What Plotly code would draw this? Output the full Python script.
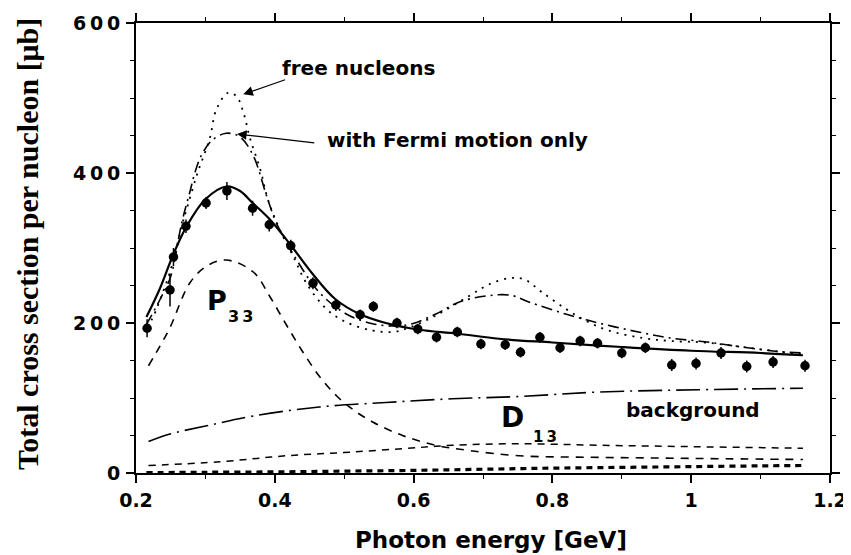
import plotly.graph_objects as go

# ---------------- data ----------------
data_x = [0.216, 0.249, 0.254, 0.272, 0.301, 0.331, 0.368, 0.392, 0.423, 0.455,
          0.488, 0.523, 0.542, 0.576, 0.606, 0.633, 0.663, 0.697, 0.732, 0.754,
          0.782, 0.811, 0.840, 0.865, 0.900, 0.934, 0.972, 1.007, 1.043, 1.080,
          1.118, 1.164]
data_y = [193, 244, 288, 329, 360, 376, 353, 331, 303, 253,
          224, 211, 222, 200, 192, 181, 188, 172, 171, 161,
          181, 167, 176, 173, 160, 167, 144, 146, 160, 142,
          148, 143]
data_err = [12, 22, 12, 9, 8, 12, 10, 9, 8, 8,
            8, 7, 7, 7, 7, 7, 7, 7, 7, 7,
            7, 7, 7, 7, 7, 7, 8, 8, 8, 8,
            8, 8]

total_x = [0.215, 0.234, 0.254, 0.273, 0.300, 0.330, 0.350, 0.367, 0.392, 0.422,
           0.454, 0.487, 0.522, 0.560, 0.608, 0.662, 0.723, 0.800, 0.900, 1.000,
           1.100, 1.161]
total_y = [208, 245, 292, 329, 365, 382, 376, 361, 339, 305,
           266, 232, 212, 200, 191, 186, 179, 174, 168, 163,
           160, 157]

free_x = [0.215, 0.223, 0.235, 0.249, 0.259, 0.266, 0.273, 0.289, 0.306, 0.316,
          0.333, 0.345, 0.355, 0.364, 0.379, 0.390, 0.407, 0.426, 0.445, 0.474,
          0.503, 0.541, 0.570, 0.594, 0.632, 0.680, 0.710, 0.740, 0.760, 0.785,
          0.819, 0.848, 0.881, 0.930, 0.970, 1.020, 1.073, 1.125, 1.161]
free_y = [195, 205, 232, 268, 303, 330, 352, 401, 445, 485,
          507, 502, 480, 447, 405, 365, 325, 290, 254, 219,
          201, 190, 188, 194, 210, 236, 252, 260, 258, 241,
          219, 203, 190, 180, 176, 174, 168, 162, 158]

fermi_x = [0.215, 0.235, 0.250, 0.266, 0.278, 0.285, 0.295, 0.310, 0.330, 0.350,
           0.369, 0.388, 0.402, 0.431, 0.464, 0.503, 0.541, 0.575, 0.598, 0.632,
           0.666, 0.704, 0.740, 0.766, 0.819, 0.871, 0.924, 0.970, 1.020, 1.073,
           1.125, 1.161]
fermi_y = [198, 232, 262, 334, 376, 401, 425, 444, 453, 448,
           423, 370, 334, 285, 241, 212, 199, 196, 199, 212,
           228, 236, 237, 228, 212, 199, 188, 180, 175, 168,
           162, 160]

p33_x = [0.218, 0.235, 0.249, 0.278, 0.302, 0.330, 0.369, 0.393, 0.417, 0.440,
         0.465, 0.490, 0.512, 0.541, 0.584, 0.632, 0.680, 0.752, 0.850, 0.950,
         1.050, 1.161]
p33_y = [143, 170, 194, 254, 276, 284, 268, 235, 197, 162,
         128, 102, 85, 68, 50, 37, 30, 23, 21, 20,
         19, 18]

d13_x = [0.218, 0.321, 0.417, 0.512, 0.608, 0.656, 0.752, 0.867, 1.010, 1.161]
d13_y = [10, 15, 23, 28, 34, 37, 39, 37, 35, 33]

bg_x = [0.218, 0.249, 0.302, 0.369, 0.464, 0.560, 0.656, 0.752, 0.867, 1.010, 1.161]
bg_y = [42, 52, 63, 76, 88, 94, 99, 102, 108, 111, 113]

other_x = [0.215, 0.300, 0.400, 0.500, 0.600, 0.700, 0.800, 0.900, 1.000, 1.100, 1.161]
other_y = [0.5, 1, 1.5, 2.5, 3.5, 5, 6.5, 7.5, 8.5, 9.5, 10]

x_ticks = [0.2, 0.4, 0.6, 0.8, 1.0, 1.2]
x_tick_labels = ["0.2", "0.4", "0.6", "0.8", "1", "1.2"]
y_ticks = [0, 200, 400, 600]
y_tick_labels = ["0", "2\u20090\u20090", "4\u20090\u20090", "6\u20090\u20090"]

# ---------------- figure ----------------
fig = go.Figure()

def curve(x, y, dash, width=1.6):
    fig.add_trace(go.Scatter(x=x, y=y, mode="lines", line_shape="spline",
                             line=dict(color="black", width=width, dash=dash),
                             hoverinfo="skip"))

curve(other_x, other_y, "6px,5px", 3.2)
curve(bg_x, bg_y, "24px,6px,2px,6px", 1.6)
curve(d13_x, d13_y, "7px,6px", 1.5)
curve(p33_x, p33_y, "8px,7px", 1.6)
curve(fermi_x, fermi_y, "11px,5px,2px,5px", 1.6)
curve(free_x, free_y, "2px,6px", 1.8)
curve(total_x, total_y, "solid", 2.2)

fig.add_trace(go.Scatter(
    x=data_x, y=data_y, mode="markers",
    marker=dict(color="black", size=9.5, symbol="circle"),
    error_y=dict(type="data", array=data_err, color="black", thickness=1.5, width=0),
    hoverinfo="skip"))

font_b = dict(family="DejaVu Sans", size=20, color="black", weight="bold")

# plot area in page pixels (the page has an 8px body margin)
PX0, PX1, PY0, PY1 = 136, 830, 23, 473

ann = []
ann.append(dict(x=0.521, y=540, xref="x", yref="y", text="free nucleons",
                showarrow=False, font=font_b))
ann.append(dict(x=0.663, y=444, xref="x", yref="y", text="with Fermi motion only",
                showarrow=False, font=font_b))
ann.append(dict(x=1.002, y=84, xref="x", yref="y", text="background",
                showarrow=False, font=font_b))
ann.append(dict(x=0.3174, y=230, xref="x", yref="y", text="P",
                showarrow=False, font=dict(family="DejaVu Sans", size=27, color="black", weight="bold")))
ann.append(dict(x=0.3506, y=209, xref="x", yref="y", text="3\u20093",
                showarrow=False, font=dict(family="DejaVu Sans", size=16, color="black", weight="bold")))
ann.append(dict(x=0.7425, y=74, xref="x", yref="y", text="D",
                showarrow=False, font=dict(family="DejaVu Sans", size=28, color="black", weight="bold")))
ann.append(dict(x=0.789, y=48, xref="x", yref="y", text="1\u20093",
                showarrow=False, font=dict(family="DejaVu Sans", size=15, color="black", weight="bold")))
# arrows
ann.append(dict(x=0.3546, y=505, ax=0.417, ay=525, xref="x", yref="y", axref="x", ayref="y",
                text="", showarrow=True, arrowhead=2, arrowsize=1.6, arrowwidth=1.2,
                arrowcolor="black"))
ann.append(dict(x=0.3455, y=452, ax=0.459, ay=440, xref="x", yref="y", axref="x", ayref="y",
                text="", showarrow=True, arrowhead=2, arrowsize=1.6, arrowwidth=1.2,
                arrowcolor="black"))
# axis titles
ann.append(dict(x=(27.5 - PX0) / (PX1 - PX0), y=(PY1 - 244.5) / (PY1 - PY0),
                xref="paper", yref="paper",
                text="Total cross section per nucleon [\u03bcb]", textangle=-90,
                showarrow=False, xanchor="center", yanchor="middle",
                font=dict(family="Liberation Serif", size=30, color="black", weight="bold")))
ann.append(dict(x=(490.8 - PX0) / (PX1 - PX0), y=-(539.5 - PY1) / (PY1 - PY0),
                xref="paper", yref="paper",
                text="Photon energy [GeV]", showarrow=False, xanchor="center", yanchor="middle",
                font=dict(family="DejaVu Sans", size=23, color="black", weight="bold")))

tickfont = dict(family="DejaVu Sans", size=19, color="black", weight="bold")

W, H = 843, 547  # figure size; page offset of 8px makes the visible frame 851x555
fig.update_layout(
    width=W, height=H,
    margin=dict(l=PX0 - 8, r=(W + 8) - PX1, t=PY0 - 8, b=(H + 8) - PY1),
    plot_bgcolor="white", paper_bgcolor="white",
    showlegend=False,
    annotations=ann,
    xaxis=dict(range=[0.2, 1.2], tickmode="array", tickvals=x_ticks, ticktext=x_tick_labels,
               ticks="outside", ticklen=8, tickwidth=1.5, tickcolor="black",
               showline=True, linewidth=2, linecolor="black", mirror="ticks",
               showgrid=False, zeroline=False, tickfont=tickfont, ticklabelstandoff=1,
               automargin=False,
               minor=dict(tick0=0.2, dtick=0.1, ticks="outside", ticklen=4, tickwidth=1,
                          tickcolor="black", showgrid=False)),
    yaxis=dict(range=[0, 600], tickmode="array", tickvals=y_ticks, ticktext=y_tick_labels,
               ticks="outside", ticklen=8, tickwidth=1.5, tickcolor="black",
               showline=True, linewidth=2, linecolor="black", mirror="ticks",
               showgrid=False, zeroline=False, tickfont=tickfont, ticklabelstandoff=2,
               automargin=False,
               minor=dict(tick0=0, dtick=50, ticks="outside", ticklen=4, tickwidth=1,
                          tickcolor="black", showgrid=False)),
)

fig.write_html("out.html")
